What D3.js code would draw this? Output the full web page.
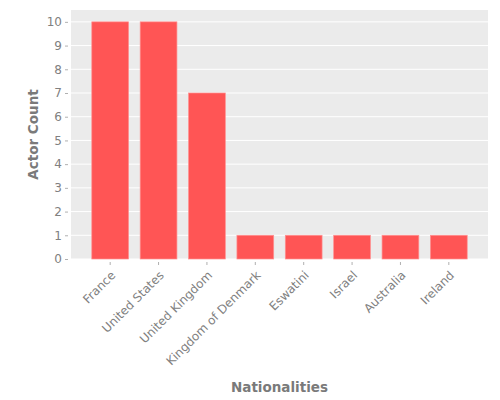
<!DOCTYPE html>
<html>
<head>
<meta charset="utf-8">
<script src="https://d3js.org/d3.v7.min.js"></script>
<style>
  body { margin: 0; background: #fff; }
  text { font-family: "DejaVu Sans", sans-serif; }
</style>
</head>
<body>
<div id="mygraph"></div>
<script>
const nationalities = ["France", "United States", "United Kingdom", "Kingdom of Denmark",
                       "Eswatini", "Israel", "Australia", "Ireland"];
const actorCounts   = [10, 10, 7, 1, 1, 1, 1, 1];
const yTicks        = [0, 1, 2, 3, 4, 5, 6, 7, 8, 9, 10];

var margin = {top: 10, right: 12, bottom: 141, left: 71},
    width = 500 - margin.left - margin.right,
    height = 400 - margin.top - margin.bottom;

let svg = d3.select("#mygraph")
    .append("svg")
    .attr("width", 500)
    .attr("height", 400)
    .append("g")
    .attr("transform", `translate(${margin.left},${margin.top})`);

// plot background
svg.append("rect")
    .attr("width", width)
    .attr("height", height)
    .attr("fill", "#ebebeb");

var x = d3.scaleBand()
    .range([0, width])
    .domain(nationalities)
    .paddingInner(0.24)
    .paddingOuter(0.43);

var y = d3.scaleLinear()
    .domain([0, 10.5])
    .range([height, 0]);

// horizontal grid
svg.append("g")
    .selectAll("line")
    .data(yTicks)
    .enter()
    .append("line")
    .attr("x1", 0)
    .attr("x2", width)
    .attr("y1", d => y(d))
    .attr("y2", d => y(d))
    .attr("stroke", "#fff")
    .attr("stroke-width", 1);

// Y axis
let yAxis = svg.append("g")
    .call(d3.axisLeft(y).tickValues(yTicks).tickSize(3).tickPadding(5));
yAxis.select(".domain").remove();
yAxis.selectAll(".tick line")
    .attr("transform", "translate(-3,0)")
    .attr("stroke", "#b0b0b0");
yAxis.selectAll(".tick text")
    .attr("fill", "#808080")
    .attr("x", -9)
    .style("font-size", "12px")
    .style("font-family", "DejaVu Sans");

// X axis
let xAxis = svg.append("g")
    .attr("transform", `translate(0,${height})`)
    .call(d3.axisBottom(x).tickSize(3).tickPadding(4));
xAxis.select(".domain").remove();
xAxis.selectAll(".tick line")
    .attr("transform", "translate(0,3)")
    .attr("stroke", "#b0b0b0");
xAxis.selectAll(".tick text")
    .attr("fill", "#808080")
    .style("font-size", "12px")
    .style("font-family", "DejaVu Sans")
    .style("text-anchor", "end")
    .attr("y", 0)
    .attr("dy", "0")
    .attr("transform", "translate(6,17)rotate(-45)");

// Bars
svg.selectAll("mybar")
    .data(nationalities)
    .enter()
    .append("rect")
    .attr("x", d => x(d))
    .attr("y", (d, i) => y(actorCounts[i]))
    .attr("width", x.bandwidth())
    .attr("height", (d, i) => height - y(actorCounts[i]))
    .attr("fill", "#ff5555")
    .attr("stroke", "#ff9090")
    .attr("stroke-width", 0.7);

// axis labels
svg.append("text")
    .text("Nationalities")
    .attr("x", width / 2)
    .attr("y", 381.5)
    .attr("text-anchor", "middle")
    .attr("fill", "#7a7a7a")
    .style("font-size", "13.5px")
    .style("font-weight", "bold");

svg.append("text")
    .text("Actor Count")
    .attr("transform", `translate(${37.5 - margin.left},${height / 2})rotate(-90)`)
    .attr("text-anchor", "middle")
    .attr("fill", "#7a7a7a")
    .style("font-size", "13.5px")
    .style("font-weight", "bold");
</script>
</body>
</html>
